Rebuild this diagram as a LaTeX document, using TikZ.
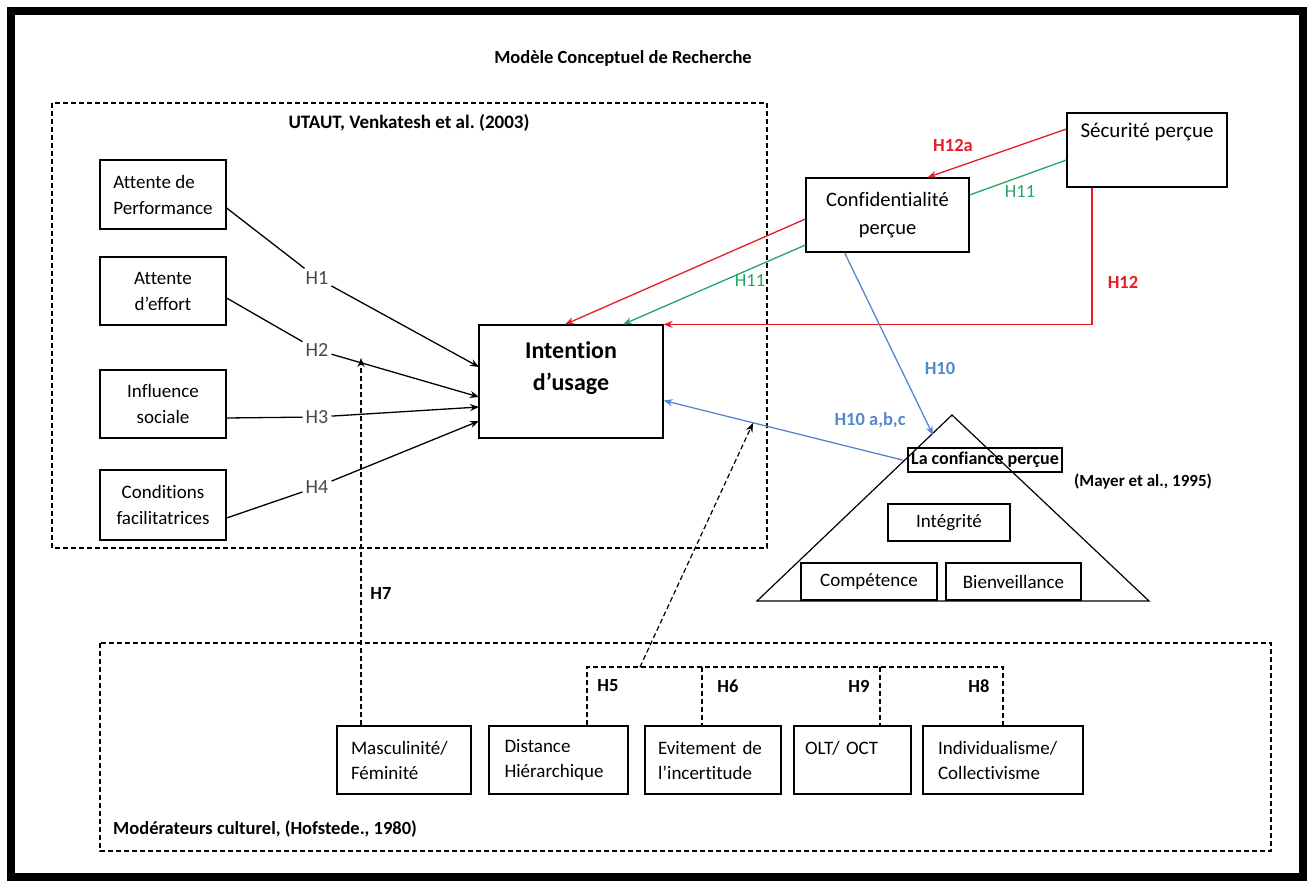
\documentclass[tikz,border=0pt]{standalone}
\usepackage{fontspec}
\setmainfont{Carlito}[Ligatures=NoCommon]
\usetikzlibrary{arrows.meta,calc}
\definecolor{cred}{RGB}{232,28,36}
\definecolor{cgreen}{RGB}{34,168,100}
\definecolor{cblue}{RGB}{84,136,204}
\definecolor{hgray}{RGB}{70,70,70}
\begin{document}
\begin{tikzpicture}[x=1pt,y=-1pt,
  hbox/.style={draw,line width=1.2pt,inner sep=0pt,align=center,font=\fontsize{19}{26}\selectfont},
  lbox/.style={draw,line width=1.2pt,inner sep=0pt,align=left,font=\fontsize{19}{25}\selectfont},
  blab/.style={font=\bfseries\fontsize{18.5}{22}\selectfont,inner sep=1pt},
  glab/.style={font=\fontsize{20}{24}\selectfont,text=hgray,fill=white,inner sep=3pt},
  conn/.style={line width=1.3pt},
  tip/.style={-{Stealth[length=9pt,width=7pt]}},
  dsh/.style={line width=1.2pt,dash pattern=on 5pt off 3pt},
  redl/.style={line width=1.3pt,draw=cred,-{Stealth[length=9pt,width=7pt]}},
  greenl/.style={line width=1.3pt,draw=cgreen},
  bluel/.style={line width=1.3pt,draw=cblue,-{Stealth[length=9pt,width=7pt]}}
]
\useasboundingbox (0,0) rectangle (1312,882);
\fill[white] (0,0) rectangle (1312,882);
\draw[line width=8pt] (11,11) rectangle (1303,877);

\node[blab] (title) at (623,58) {Modèle Conceptuel de Recherche};

% UTAUT frame
\draw[dsh] (52,103) rectangle (767,548);
\node[blab,font=\bfseries\fontsize{19}{22}\selectfont] (utt) at (409,123) {UTAUT, Venkatesh et al.\ (2003)};

\node[hbox,align=left,minimum width=126pt,minimum height=69pt] (perf) at (163,194.5) {Attente de\\Performance};
\node[hbox,minimum width=126pt,minimum height=68pt] (eff) at (163,291) {Attente\\d’effort};
\node[hbox,minimum width=126pt,minimum height=68pt] (infl) at (163,404) {Influence\\sociale};
\node[hbox,minimum width=126pt,minimum height=70pt] (cond) at (163,505) {Conditions\\facilitatrices};

\node[hbox,minimum width=184pt,minimum height=113pt] (int) at (571,381.5) {};
\node[font=\bfseries\fontsize{24}{32}\selectfont,align=center] (intT) at (571,368) {Intention\\d’usage};

\node[glab] (h1) at (317,278) {H1};
\node[glab] (h2) at (317,350) {H2};
\node[glab] (h3) at (317,417) {H3};
\node[glab] (h4) at (317,487) {H4};

\coordinate (t1) at (479,367);
\coordinate (t2) at (479,397);
\coordinate (t3) at (479,407);
\coordinate (t4) at (479,421);

\draw[conn] ($(perf.east)+(0,13.5)$) -- (h1);
\draw[conn,tip] (h1) -- (t1);
\draw[conn] ($(eff.east)+(0,7)$) -- (h2);
\draw[conn,tip] (h2) -- (t2);
\draw[conn] ($(infl.east)+(0,14)$) -- (h3);
\draw[conn,tip] (h3) -- (t3);
\draw[conn] ($(cond.east)+(0,13)$) -- (h4);
\draw[conn,tip] (h4) -- (t4);

% security / confidentiality
\node[hbox,font=\fontsize{20.5}{28}\selectfont,minimum width=163pt,minimum height=74pt] (conf) at (887.5,215) {Confidentialité\\perçue};
\node[hbox,minimum width=160pt,minimum height=74pt] (sec) at (1147,150) {};
\node[font=\fontsize{21}{24}\selectfont] (secT) at (1147,132) {Sécurité perçue};

\draw[redl] ($(sec.west)+(0,-21)$) -- ($(conf.north)+(40,0)$);
\draw[greenl] ($(sec.west)+(0,10)$) -- ($(conf.east)+(0,-20)$);
\draw[redl] ($(conf.west)+(0,4)$) -- ($(int.north)+(-6,0)$);
\draw[greenl,-{Stealth[length=9pt,width=7pt]}] ($(conf.west)+(0,30)$) -- ($(int.north)+(52,0)$);
\draw[redl] ($(sec.south)+(-55,0)$) |- (int.north east);

\node[blab,text=cred] (l12a) at (953,146) {H12a};
\node[font=\fontsize{18.5}{22}\selectfont,text=cgreen] (l11a) at (1020,192) {H11};
\node[font=\fontsize{18.5}{22}\selectfont,text=cgreen] (l11b) at (750,281) {H11};
\node[blab,text=cred] (l12) at (1123,282) {H12};

% trust pyramid
\coordinate (apex) at (952,415);
\coordinate (bl) at (757,601);
\coordinate (br) at (1149,601);
\draw[line width=1.2pt] (apex) -- (bl) -- (br) -- cycle;
\node[draw,line width=1.2pt,font=\bfseries\fontsize{18}{22}\selectfont,inner sep=1pt,minimum width=154pt,minimum height=24pt] (trust) at (985,460) {La confiance perçue};
\node[font=\bfseries\fontsize{17}{20}\selectfont,inner sep=1pt] (mayer) at (1143,482) {(Mayer et al., 1995)};
\node[hbox,minimum width=122pt,minimum height=37pt] (integ) at (949,522.5) {Intégrité};
\node[hbox,minimum width=136pt,minimum height=37pt] (comp) at (869,581.5) {Compétence};
\node[hbox,minimum width=135pt,minimum height=37pt] (bienv) at (1013.5,581.5) {Bienveillance};

\coordinate (btip) at (933,435);
\draw[bluel] ($(conf.south)+(-43,0)$) -- (btip);
\draw[bluel] ($(trust.west)+(-5,0)$) -- ($(int.east)+(0,19)$);
\node[blab,text=cblue] (l10) at (940,368) {H10};
\node[blab,text=cblue] (l10abc) at (870,420) {H10 a,b,c};

% moderators
\draw[dsh] (100,643) rectangle (1271,851);
\node[blab,anchor=west,inner sep=0pt] (modl) at (113,829) {Modérateurs culturel, (Hofstede., 1980)};

\node[lbox,text width=106pt,minimum width=134pt,minimum height=68pt] (masc) at (404,760) {Masculinité/\\Féminité};
\node[lbox,text width=108pt,minimum width=139pt,minimum height=68pt] (dist) at (558.5,760) {Distance\\Hiérarchique};
\node[lbox,text width=110pt,minimum width=136pt,minimum height=68pt] (evit) at (713,760) {Evitement de\\l’incertitude};
\node[lbox,text width=95pt,minimum width=117pt,minimum height=68pt] (olt) at (852.5,760) {OLT/ OCT\\\mbox{}};
\node[lbox,text width=130pt,minimum width=160pt,minimum height=68pt] (indiv) at (1003,760) {Individualisme/\\Collectivisme};

\coordinate (h7tip) at (361,358);
\draw[dsh,tip] ($(masc.north)+(-43,0)$) -- (h7tip);
\node[blab] (l7) at (381,593) {H7};

\coordinate (bk5) at (587,667);
\coordinate (bk6) at (702,667);
\coordinate (bk9) at (880,667);
\coordinate (bk8) at (1003,667);
\coordinate (bk0) at (640,667);
\coordinate (dtip) at (753,423);
\draw[dsh] (bk5 |- dist.north) -- (bk5) -- (bk8) -- (bk8 |- indiv.north);
\draw[dsh] (bk6) -- (bk6 |- evit.north);
\draw[dsh] (bk9) -- (bk9 |- olt.north);
\draw[dsh,tip] (bk0) -- (dtip);

\node[blab] (l5) at (608,686) {H5};
\node[blab] (l6) at (728,686) {H6};
\node[blab] (l9) at (859,686) {H9};
\node[blab] (l8) at (979,686) {H8};
\end{tikzpicture}
\end{document}
